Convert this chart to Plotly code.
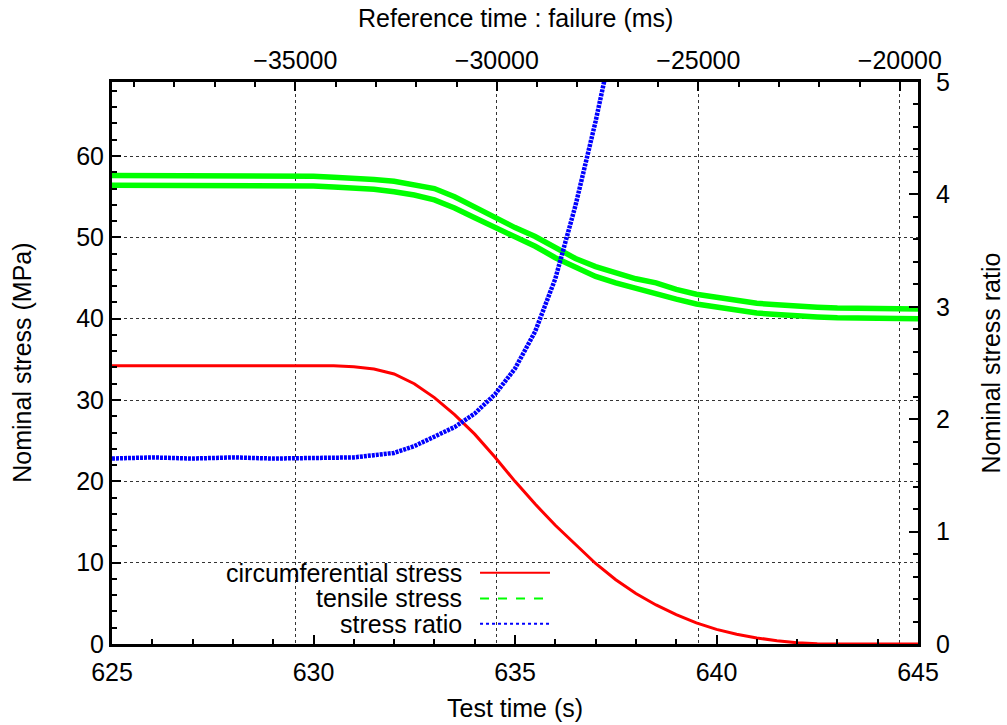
import plotly.graph_objects as go

# ---- data ----
t_circ = [625, 626, 627, 628, 629, 630, 630.5, 631, 631.5, 632, 632.5, 633, 633.5, 634, 634.5,
          635, 635.5, 636, 636.5, 637, 637.5, 638, 638.5, 639, 639.5, 640, 640.5, 641, 641.5,
          642, 642.5, 643, 644, 645]
circ_stress = [34.2, 34.2, 34.2, 34.2, 34.2, 34.2, 34.2, 34.1, 33.8, 33.2, 32.0, 30.3, 28.2, 25.8, 23.0,
               20.0, 17.2, 14.6, 12.2, 9.9, 7.9, 6.2, 4.8, 3.6, 2.6, 1.8, 1.2, 0.75, 0.4,
               0.15, 0.03, 0.0, 0.0, 0.0]

t_tens = [625, 626, 627, 628, 629, 630, 630.5, 631, 631.5, 632, 632.5, 633, 633.5, 634, 634.5,
          635, 635.5, 636, 636.5, 637, 637.5, 638, 638.5, 639, 639.5, 640, 640.5, 641, 641.5,
          642, 642.5, 643, 644, 645]
tensile_upper = [57.6, 57.6, 57.6, 57.6, 57.5, 57.5, 57.4, 57.3, 57.1, 56.9, 56.5, 56.0, 55.0, 53.7, 52.4,
                 51.2, 50.1, 48.7, 47.4, 46.4, 45.6, 44.9, 44.4, 43.6, 43.0, 42.6, 42.2, 41.9, 41.7,
                 41.5, 41.4, 41.3, 41.2, 41.2]
tensile_lower = [56.4, 56.4, 56.4, 56.4, 56.3, 56.3, 56.2, 56.1, 55.9, 55.6, 55.2, 54.6, 53.6, 52.4, 51.2,
                 50.0, 48.9, 47.5, 46.3, 45.2, 44.4, 43.7, 43.1, 42.4, 41.8, 41.4, 41.0, 40.7, 40.5,
                 40.3, 40.2, 40.1, 40.0, 40.0]

t_ratio = [625, 626, 627, 628, 629, 630, 631, 631.5, 632, 632.5, 633, 633.5, 634, 634.5,
           635, 635.5, 636, 636.5, 637, 637.3]
stress_ratio = [1.65, 1.66, 1.65, 1.66, 1.65, 1.65, 1.66, 1.68, 1.70, 1.76, 1.85, 1.93, 2.05, 2.22,
                2.45, 2.78, 3.25, 3.90, 4.65, 5.15]

failure_time_s = 664.55
x_range = [625, 645]
y_range = [0, 69.1]
y2_range = [0, 5]

legend_labels = ["circumferential stress", "tensile stress", "stress ratio"]

FONT = "Liberation Sans, Arial, sans-serif"
FS = 25

fig = go.Figure()
fig.add_trace(go.Scatter(x=t_tens, y=tensile_upper, mode="lines", name=legend_labels[1],
                         line=dict(color="#00ff00", width=5.5), showlegend=False))
fig.add_trace(go.Scatter(x=t_tens, y=tensile_lower, mode="lines", name=legend_labels[1],
                         line=dict(color="#00ff00", width=5.5), showlegend=False))
fig.add_trace(go.Scatter(x=t_ratio, y=stress_ratio, mode="lines", name=legend_labels[2],
                         yaxis="y2", line=dict(color="#0000ff", width=4.5, dash="3px,1px"),
                         showlegend=False))
fig.add_trace(go.Scatter(x=t_circ, y=circ_stress, mode="lines", name=legend_labels[0],
                         line=dict(color="#ff0000", width=3), showlegend=False))
# invisible trace so the top axis is drawn
fig.add_trace(go.Scatter(x=[(x_range[0] - failure_time_s) * 1000], y=[0], xaxis="x2",
                         mode="markers", marker=dict(opacity=0), showlegend=False, hoverinfo="skip"))

tickfont = dict(family=FONT, size=FS, color="black")
common = dict(showline=True, linecolor="black", linewidth=3, ticks="inside", ticklen=9,
              tickwidth=2, tickcolor="black", zeroline=False, tickfont=tickfont,
              automargin=False)
fig.update_layout(
    width=1007, height=725,
    margin=dict(l=112, r=89, t=82, b=81, autoexpand=False),
    paper_bgcolor="white", plot_bgcolor="white",
    showlegend=False,
    xaxis=dict(range=x_range, dtick=5, showgrid=False, ticklabelstandoff=4,
               minor=dict(dtick=1, ticks="inside", ticklen=5, tickwidth=2, tickcolor="black"),
               **common),
    xaxis2=dict(range=[(x_range[0] - failure_time_s) * 1000, (x_range[1] - failure_time_s) * 1000],
                overlaying="x", side="top", anchor="y", dtick=5000, tickformat="d",
                showgrid=True, gridcolor="#333", griddash="dot", gridwidth=1,
                minor=dict(dtick=1000, ticks="inside", ticklen=5, tickwidth=2, tickcolor="black"),
                **common),
    yaxis=dict(range=y_range, dtick=10, showgrid=True, gridcolor="#333", griddash="dot", gridwidth=1,
               minor=dict(dtick=2, ticks="inside", ticklen=5, tickwidth=2, tickcolor="black"),
               **common),
    yaxis2=dict(range=y2_range, dtick=1, overlaying="y", side="right", showgrid=False,
                ticklabelstandoff=10,
                minor=dict(dtick=0.2, ticks="inside", ticklen=5, tickwidth=2, tickcolor="black"),
                **common),
)

# legend box (white, hides the grid) and samples
fig.add_shape(type="rect", xref="paper", yref="paper", x0=0.0186, x1=0.563, y0=0.013, y1=0.156,
              fillcolor="white", line=dict(width=0), layer="between")
rows_y = [0.127, 0.081, 0.036]
styles = [dict(color="#ff0000", width=2, dash="solid"),
          dict(color="#00ff00", width=2, dash="dash"),
          dict(color="#0000ff", width=2, dash="dot")]
for lab, yy, st in zip(legend_labels, rows_y, styles):
    fig.add_annotation(text=lab, xref="paper", yref="paper", x=0.4355, y=yy, xanchor="right",
                       yanchor="middle", showarrow=False, font=tickfont, height=22,
                       valign="middle", borderpad=0)
    fig.add_shape(type="line", xref="paper", yref="paper", x0=0.4566, x1=0.5434, y0=yy, y1=yy,
                  line=st)

# axis titles
fig.add_annotation(text="Test time (s)", xref="paper", yref="paper", x=0.5, y=-0.113,
                   xanchor="center", yanchor="middle", showarrow=False, font=tickfont)
fig.add_annotation(text="Reference time : failure (ms)", xref="paper", yref="paper", x=0.5, y=1.113,
                   xanchor="center", yanchor="middle", showarrow=False, font=tickfont)
fig.add_annotation(text="Nominal stress (MPa)", xref="paper", yref="paper", x=-0.112, y=0.5,
                   xanchor="center", yanchor="middle", textangle=-90, showarrow=False, font=tickfont)
fig.add_annotation(text="Nominal stress ratio", xref="paper", yref="paper", x=1.09, y=0.5,
                   xanchor="center", yanchor="middle", textangle=-90, showarrow=False, font=tickfont)

fig.write_html("out.html", config={"displayModeBar": False},
               post_script="document.body.style.margin='0';document.body.style.overflow='hidden';")
